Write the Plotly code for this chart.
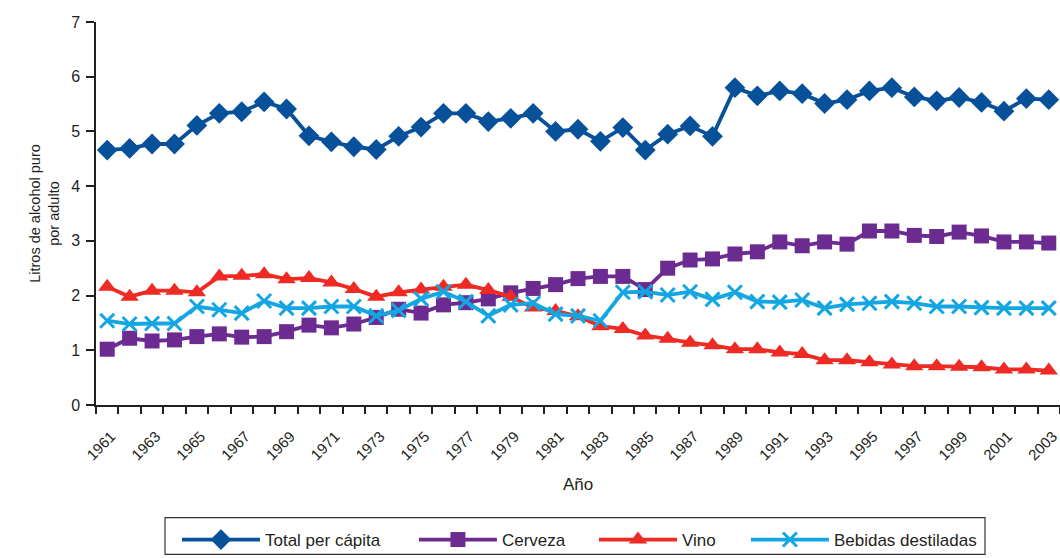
import plotly.graph_objects as go

years = list(range(1961, 2004))

total = [4.66, 4.69, 4.77, 4.77, 5.11, 5.33, 5.36, 5.54, 5.41, 4.92, 4.81, 4.72, 4.67, 4.91,
         5.08, 5.33, 5.33, 5.18, 5.24, 5.33, 5.00, 5.04, 4.82, 5.07, 4.66, 4.95, 5.10, 4.91,
         5.80, 5.65, 5.74, 5.69, 5.51, 5.58, 5.74, 5.80, 5.63, 5.56, 5.62, 5.53, 5.37, 5.60, 5.58]

cerveza = [1.02, 1.22, 1.17, 1.19, 1.25, 1.30, 1.24, 1.25, 1.34, 1.46, 1.41, 1.48, 1.60, 1.75,
           1.68, 1.83, 1.87, 1.94, 2.05, 2.13, 2.20, 2.31, 2.35, 2.35, 2.11, 2.50, 2.65, 2.67,
           2.76, 2.80, 2.98, 2.91, 2.98, 2.94, 3.18, 3.18, 3.10, 3.08, 3.16, 3.09, 2.98, 2.98, 2.96]

vino = [2.16, 1.98, 2.09, 2.09, 2.06, 2.35, 2.36, 2.39, 2.30, 2.32, 2.24, 2.12, 1.98, 2.06,
        2.11, 2.16, 2.20, 2.10, 1.98, 1.78, 1.72, 1.62, 1.44, 1.39, 1.27, 1.21, 1.14, 1.09,
        1.02, 1.02, 0.96, 0.93, 0.82, 0.82, 0.78, 0.74, 0.71, 0.71, 0.70, 0.69, 0.65, 0.65, 0.63]

destiladas = [1.54, 1.48, 1.49, 1.49, 1.80, 1.74, 1.68, 1.90, 1.77, 1.77, 1.80, 1.80, 1.63, 1.73,
              1.94, 2.07, 1.89, 1.63, 1.83, 1.86, 1.66, 1.63, 1.54, 2.06, 2.07, 2.01, 2.07, 1.93,
              2.06, 1.89, 1.88, 1.92, 1.77, 1.84, 1.86, 1.89, 1.86, 1.80, 1.80, 1.78, 1.77, 1.77, 1.77]

series_names = ["Total per cápita", "Cerveza", "Vino", "Bebidas destiladas"]
series_values = [total, cerveza, vino, destiladas]
colors = ["#07509a", "#6c2b90", "#ee2a24", "#14a6e2"]
symbols = ["diamond", "square", "triangle-up", "x-thin"]
msizes = [16, 15, 16, 14]
legend_ids = ["legend2", "legend3", "legend4", "legend5"]
legend_x = [0.084, 0.3298, 0.5166, 0.6742]

tick_years = [y for y in years if y % 2 == 1]
tick_labels = [str(y) for y in tick_years]

FONT = "Liberation Sans, Arial, sans-serif"
TXT = "#231f20"

fig = go.Figure()
for name, vals, c, s, ms, lg in zip(series_names, series_values, colors, symbols, msizes, legend_ids):
    marker = dict(symbol=s, size=ms, color=c)
    if s == "x-thin":
        marker["line"] = dict(color=c, width=3)
    fig.add_trace(go.Scatter(x=years, y=vals, name=name, mode="lines+markers", showlegend=True,
                             line=dict(color=c, width=3.8), marker=marker, legend=lg))

legend_common = dict(orientation="h", yanchor="middle", y=-0.352, xanchor="left",
                     bgcolor="rgba(0,0,0,0)", borderwidth=0, font=dict(size=17, color=TXT),
                     itemwidth=78)

fig.update_layout(
    width=1060, height=558,
    margin=dict(l=96, r=0, t=22, b=152),
    paper_bgcolor="white", plot_bgcolor="white",
    font=dict(family=FONT, color=TXT, size=14),
    xaxis=dict(range=[1960.5, 2003.5], tickmode="array", tickvals=tick_years, ticktext=tick_labels,
               tickangle=-45, ticks="", showgrid=False, zeroline=False, automargin=False,
               showline=True, linecolor="#231f20", linewidth=1.5, ticklabeloverflow="allow",
               minor=dict(ticks="outside", ticklen=7, tick0=1960.5, dtick=1, tickcolor="#231f20",
                          tickwidth=1.5, showgrid=False),
               tickfont=dict(size=15), ticklabelshift=4, ticklabelstandoff=15,
               title=dict(text="Año", font=dict(size=17), standoff=16)),
    yaxis=dict(range=[0, 7], dtick=1, ticks="outside", ticklen=8, tickcolor="#231f20", tickwidth=1.5,
               showgrid=False, zeroline=False, showline=True, linecolor="#231f20", linewidth=1.5,
               tickfont=dict(size=16), ticklabelstandoff=3, automargin=False,
               title=dict(text="Litros de alcohol puro<br>por adulto", font=dict(size=14.5), standoff=8)),
    shapes=[dict(type="rect", xref="paper", yref="paper", x0=0.0716, x1=0.9222, y0=-0.390, y1=-0.2943,
                 line=dict(color="#333333", width=1.2), fillcolor="rgba(0,0,0,0)", layer="above")],
)
for lg, lx in zip(legend_ids, legend_x):
    fig.update_layout({lg: dict(legend_common, x=lx)})

fig.write_html(
    "out.html",
    config={"displayModeBar": False},
    post_script="document.body.style.margin='0';document.documentElement.style.overflow='hidden';",
)
